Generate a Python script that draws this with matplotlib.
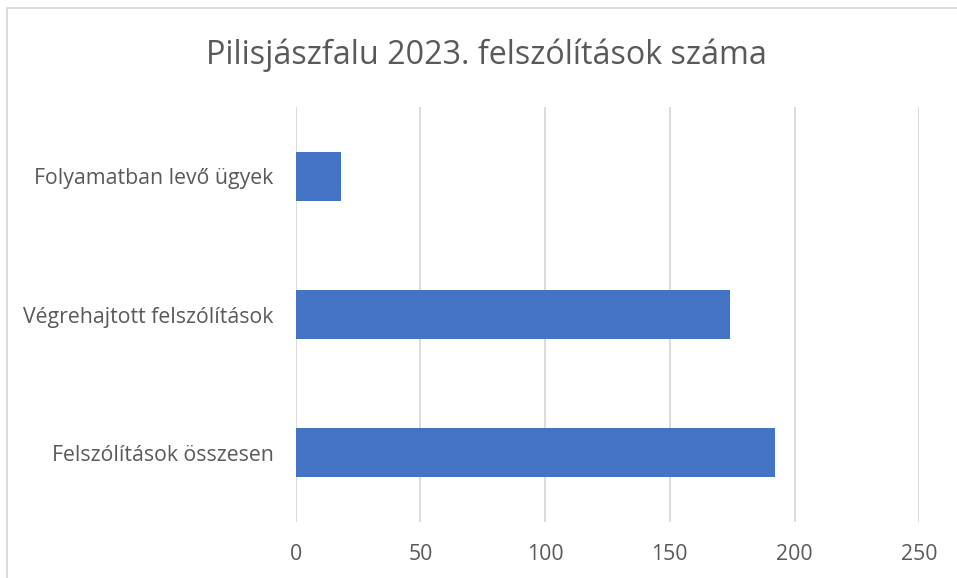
import matplotlib.pyplot as plt
from matplotlib.patches import Rectangle

# Data
categories = ["Felszólítások összesen", "Végrehajtott felszólítások", "Folyamatban levő ügyek"]
values = [192, 174, 18]
ticks = [0, 50, 100, 150, 200, 250]

TITLE = "Pilisjászfalu 2023. felszólítások száma"
COLOR_BAR = "#4472C4"
COLOR_TEXT = "#595959"
COLOR_GRID = "#D9D9D9"

plt.rcParams["font.family"] = ["Open Sans", "DejaVu Sans"]

W, H = 957, 578
fig = plt.figure(figsize=(W / 100, H / 100), dpi=100)
ax = fig.add_axes([295.7 / W, 1 - 522 / H, (919.3 - 295.7) / W, (522 - 107) / H])

ax.barh(range(len(categories)), values, height=0.355, color=COLOR_BAR, zorder=3)

ax.set_xlim(0, 250)
ax.set_ylim(-0.5, len(categories) - 0.5)
ax.set_xticks(ticks)
ax.set_xticklabels([str(t) for t in ticks])
ax.set_yticks(range(len(categories)))
ax.set_yticklabels(categories)

ax.tick_params(axis="both", length=0, labelsize=15.3, labelcolor=COLOR_TEXT)
ax.tick_params(axis="x", pad=15.5)
ax.tick_params(axis="y", pad=16)

ax.grid(axis="x", color=COLOR_GRID, linewidth=1.3, zorder=0)
for s in ax.spines.values():
    s.set_visible(False)

fig.text(0.508, 1 - 55 / H, TITLE, ha="center", va="center", fontsize=23.2, color=COLOR_TEXT)

# chart outer border (right and bottom edges fall outside the image)
fig.patches.append(Rectangle((7.5 / W, -0.1), 1.2, 1 - 8.5 / H + 0.1, transform=fig.transFigure,
                             fill=False, edgecolor=COLOR_GRID, linewidth=1.3))

fig.savefig("out.png", dpi=100)
